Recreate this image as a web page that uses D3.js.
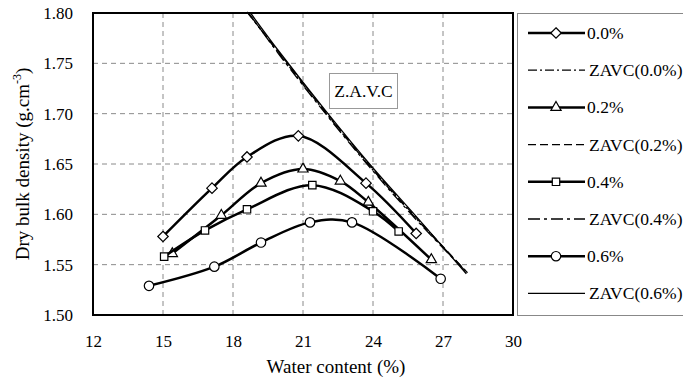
<!DOCTYPE html>
<html>
<head>
<meta charset="utf-8">
<script src="https://cdn.jsdelivr.net/npm/d3@7"></script>
<style>
  body { margin: 0; background: #fff; }
  text { font-family: "Liberation Serif", "DejaVu Serif", serif; fill: #000; }
</style>
</head>
<body>
<div id="chart"></div>
<script>
// data
const xTicks = [12, 15, 18, 21, 24, 27, 30];
const yTicks = [1.50, 1.55, 1.60, 1.65, 1.70, 1.75, 1.80];

const dens00 = [[15.0, 1.578], [17.1, 1.626], [18.6, 1.657], [20.8, 1.678], [23.7, 1.631], [25.85, 1.581]];
const dens02 = [[15.4, 1.561], [17.5, 1.599], [19.2, 1.631], [21.0, 1.645], [22.6, 1.633], [23.8, 1.612], [26.5, 1.555]];
const dens04 = [[15.05, 1.558], [16.8, 1.584], [18.6, 1.605], [21.4, 1.629], [24.0, 1.603], [25.1, 1.583]];
const dens06 = [[14.4, 1.529], [17.2, 1.548], [19.2, 1.572], [21.3, 1.592], [23.1, 1.592], [26.9, 1.536]];

const zavc00 = [[18.65, 1.800], [20, 1.759], [22, 1.700], [24, 1.644], [26, 1.592], [28.0, 1.543]];
const zavc02 = [[18.6, 1.801], [20, 1.760], [22, 1.701], [24, 1.645], [26, 1.593], [28.05, 1.542]];
const zavc04 = [[18.7, 1.799], [20, 1.758], [22, 1.699], [24, 1.643], [26, 1.591], [27.95, 1.544]];
const zavc06 = [[18.75, 1.800], [20, 1.761], [22, 1.702], [24, 1.646], [26, 1.594], [28.0, 1.541]];

const series = [
  {name: "0.0%", data: dens00, kind: "data", marker: "diamond"},
  {name: "ZAVC(0.0%)", data: zavc00, kind: "zavc", dash: "9,3,2,3"},
  {name: "0.2%", data: dens02, kind: "data", marker: "triangle"},
  {name: "ZAVC(0.2%)", data: zavc02, kind: "zavc", dash: "8,4"},
  {name: "0.4%", data: dens04, kind: "data", marker: "square"},
  {name: "ZAVC(0.4%)", data: zavc04, kind: "zavc", dash: "12,4,3,4"},
  {name: "0.6%", data: dens06, kind: "data", marker: "circle"},
  {name: "ZAVC(0.6%)", data: zavc06, kind: "zavc", dash: null}
];

// setup
const width = 683, height = 385;
const margin = {top: 13, right: 170, bottom: 70, left: 93};

const svg = d3.select("#chart").append("svg")
  .attr("width", width)
  .attr("height", height);

const x = d3.scaleLinear().domain([12, 30]).range([margin.left, width - margin.right]);
const y = d3.scaleLinear().domain([1.50, 1.80]).range([height - margin.bottom, margin.top]);

// grid
svg.append("g")
  .selectAll("line")
  .data(xTicks.slice(1, -1))
  .join("line")
  .attr("x1", d => x(d)).attr("x2", d => x(d))
  .attr("y1", y(1.80)).attr("y2", y(1.50))
  .attr("stroke", "#8a8a8a")
  .attr("stroke-dasharray", "5,4");

svg.append("g")
  .selectAll("line")
  .data(yTicks.slice(1, -1))
  .join("line")
  .attr("x1", x(12)).attr("x2", x(30))
  .attr("y1", d => y(d)).attr("y2", d => y(d))
  .attr("stroke", "#8a8a8a")
  .attr("stroke-dasharray", "5,4");

// axes
const xAxis = d3.axisBottom(x).tickValues(xTicks).tickSize(0).tickPadding(20).tickFormat(d3.format("d"));
const yAxis = d3.axisLeft(y).tickValues(yTicks).tickSize(0).tickPadding(20).tickFormat(d3.format(".2f"));

svg.append("g")
  .attr("transform", "translate(0," + y(1.50) + ")")
  .call(xAxis)
  .call(g => g.select(".domain").remove())
  .selectAll("text")
  .style("font-family", "Liberation Serif")
  .style("font-size", "17px");

svg.append("g")
  .attr("transform", "translate(" + x(12) + ",0)")
  .call(yAxis)
  .call(g => g.select(".domain").remove())
  .selectAll("text")
  .style("font-family", "Liberation Serif")
  .style("font-size", "17px");

// plot frame
svg.append("rect")
  .attr("x", x(12)).attr("y", y(1.80))
  .attr("width", x(30) - x(12)).attr("height", y(1.50) - y(1.80))
  .attr("fill", "none")
  .attr("stroke", "#000")
  .attr("stroke-width", 2);

// titles
svg.append("text")
  .attr("x", 336)
  .attr("y", 373)
  .attr("text-anchor", "middle")
  .style("font-size", "19px")
  .text("Water content (%)");

const yl = svg.append("text")
  .attr("transform", "translate(29,164) rotate(-90)")
  .attr("text-anchor", "middle")
  .style("font-size", "19px");
yl.append("tspan").text("Dry bulk density (g.cm");
yl.append("tspan").attr("dy", -8).style("font-size", "12px").text("-3");
yl.append("tspan").attr("dy", 8).text(")");

// lines
const line = d3.line()
  .x(d => x(d[0]))
  .y(d => y(d[1]))
  .curve(d3.curveCatmullRom.alpha(0.5));

const plot = svg.append("g");

series.filter(s => s.kind === "zavc").forEach(s => {
  plot.append("path")
    .datum(s.data)
    .attr("d", line)
    .attr("fill", "none")
    .attr("stroke", "#000")
    .attr("stroke-width", 1.3)
    .attr("stroke-dasharray", s.dash);
});

const symbols = {
  diamond: d3.symbol().type(d3.symbolDiamond2).size(70),
  triangle: d3.symbol().type(d3.symbolTriangle2).size(75),
  square: d3.symbol().type(d3.symbolSquare2).size(70),
  circle: d3.symbol().type(d3.symbolCircle).size(70)
};

function drawMarker(g, type, cx, cy) {
  g.append("path")
    .attr("d", symbols[type]())
    .attr("transform", "translate(" + cx + "," + cy + ")")
    .attr("fill", "#fff")
    .attr("stroke", "#000")
    .attr("stroke-width", 1.2);
}

series.filter(s => s.kind === "data").forEach(s => {
  plot.append("path")
    .datum(s.data)
    .attr("d", line)
    .attr("fill", "none")
    .attr("stroke", "#000")
    .attr("stroke-width", 2.5);
  s.data.forEach(d => drawMarker(plot, s.marker, x(d[0]), y(d[1])));
});

// Z.A.V.C label
svg.append("rect")
  .attr("x", 329.5).attr("y", 73.5)
  .attr("width", 68).attr("height", 35)
  .attr("fill", "#fff")
  .attr("stroke", "#999");
svg.append("text")
  .attr("x", 363.5).attr("y", 97)
  .attr("text-anchor", "middle")
  .style("font-size", "17.5px")
  .text("Z.A.V.C");

// legend
const legend = svg.append("g");
legend.append("rect")
  .attr("x", 517.5).attr("y", 13.5)
  .attr("width", 170).attr("height", y(1.50) - 13)
  .attr("fill", "#fff")
  .attr("stroke", "#888");

series.forEach((s, i) => {
  const ly = 33 + i * 37.2;
  legend.append("line")
    .attr("x1", 528).attr("x2", 585)
    .attr("y1", ly).attr("y2", ly)
    .attr("stroke", "#000")
    .attr("stroke-width", s.kind === "data" ? 2.5 : 1.3)
    .attr("stroke-dasharray", s.dash || null);
  if (s.kind === "data") drawMarker(legend, s.marker, 556, ly);
  legend.append("text")
    .attr("x", s.kind === "data" ? 587 : 589)
    .attr("y", ly + 6)
    .style("font-size", "17.5px")
    .text(s.name);
});
</script>
</body>
</html>
